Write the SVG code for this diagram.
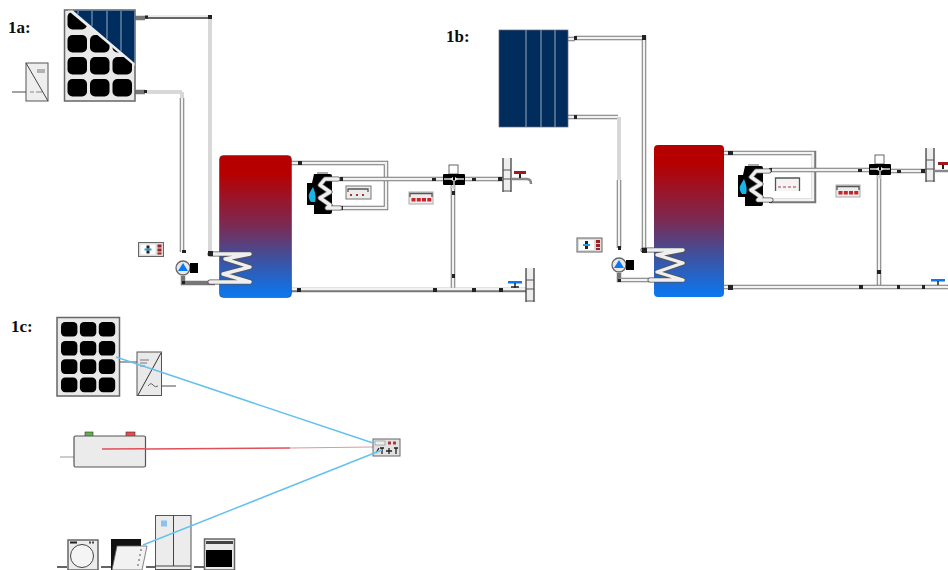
<svg xmlns="http://www.w3.org/2000/svg" width="948" height="570" viewBox="0 0 948 570">
<style>
.lbl{font-family:"Liberation Serif",serif;font-weight:bold;font-size:17px;fill:#0d0d0d}
.po{fill:none;stroke:#777;stroke-width:4.5}
.pi{fill:none;stroke:#f2f2f2;stroke-width:2.5}
.lt{fill:none;stroke:#d8d8d8;stroke-width:4}
.coil{fill:none;stroke:#555;stroke-width:5;stroke-linejoin:round;stroke-linecap:round}
.coili{fill:none;stroke:#efefef;stroke-width:3.4;stroke-linejoin:round;stroke-linecap:round}
.j{fill:#222}
.cell{fill:#000}
.frame{fill:#e9e9e9;stroke:#666;stroke-width:1.5}
.thin{stroke:#555;stroke-width:1.3;fill:none}
.blue{fill:none;stroke:#68c0ee;stroke-width:1.5}
.wire{fill:none;stroke:#888;stroke-width:1.5}
.stripe{stroke:#8095ad;stroke-width:1.2}
</style>
<defs>
<linearGradient id="tank" x1="0" y1="0" x2="0" y2="1">
<stop offset="0.12" stop-color="#b60000"/>
<stop offset="0.5" stop-color="#7a2b55"/>
<stop offset="0.72" stop-color="#40509c"/>
<stop offset="1" stop-color="#0a78f2"/>
</linearGradient>
<g id="cells3x4">
<rect class="cell" x="0" y="0" width="19.500" height="17.500" rx="5"/><rect class="cell" x="22.500" y="0" width="19.500" height="17.500" rx="5"/><rect class="cell" x="45" y="0" width="19.500" height="17.500" rx="5"/>
<rect class="cell" x="0" y="23" width="19.500" height="17.500" rx="5"/><rect class="cell" x="22.500" y="23" width="19.500" height="17.500" rx="5"/><rect class="cell" x="45" y="23" width="19.500" height="17.500" rx="5"/>
<rect class="cell" x="0" y="45" width="19.500" height="17.500" rx="5"/><rect class="cell" x="22.500" y="45" width="19.500" height="17.500" rx="5"/><rect class="cell" x="45" y="45" width="19.500" height="17.500" rx="5"/>
<rect class="cell" x="0" y="67" width="19.500" height="17.500" rx="5"/><rect class="cell" x="22.500" y="67" width="19.500" height="17.500" rx="5"/><rect class="cell" x="45" y="67" width="19.500" height="17.500" rx="5"/>
</g>
<g id="pump">
<circle cx="0" cy="0" r="7" fill="#e8e8e8" stroke="#666" stroke-width="1.300"/>
<path d="M-5 3 L0 -5 L5 3 Z" fill="#0a78f2"/>
<rect x="7" y="-5" width="8" height="10" fill="#000"/>
</g>
<g id="boiler">
<path d="M7 2 H23 Q25 2 25 4 V40 Q25 42 23 42 H7 V33 H0 V11 H5 Z" fill="#000"/>
<rect x="10" y="0" width="11" height="2" fill="#aaa"/>
<path d="M4 30 Q0 25 3 20 L6 15 Q10 24 8 30 Z" fill="#19b4e6"/>
<path class="coil" d="M31 7 H18 L13 13 L23 20 L13 26 L23 33 L20 36 H33"/>
<path class="coili" d="M31 7 H18 L13 13 L23 20 L13 26 L23 33 L20 36 H33"/>
</g>
<g id="ctrlRed">
<rect x="0" y="0" width="24" height="12" fill="#ececec" stroke="#aaa" stroke-width="1"/>
<path class="thin" d="M1 5 V1.500 H23 V5"/>
<rect x="2.500" y="6" width="4" height="3.500" fill="#c8242c"/><rect x="7.800" y="6" width="4" height="3.500" fill="#c8242c"/><rect x="13" y="6" width="4" height="3.500" fill="#c8242c"/><rect x="18.300" y="6" width="4" height="3.500" fill="#c8242c"/>
</g>
<g id="ctrlSmall">
<rect x="0" y="0" width="25" height="14" fill="#dcdcdc" stroke="#666" stroke-width="1"/>
<rect x="2" y="2" width="15" height="10" fill="#fff"/>
<path d="M6 7 H13" stroke="#19a0e6" stroke-width="2"/>
<rect x="8" y="3" width="3" height="3" fill="#222"/><rect x="8" y="8" width="3" height="3" fill="#222"/>
<rect x="19" y="2" width="4" height="3" fill="#a02028"/><rect x="19" y="6" width="4" height="3" fill="#a02028"/><rect x="19" y="10" width="4" height="2" fill="#a02028"/>
</g>
<g id="wall">
<rect x="0" y="0" width="8" height="34" fill="#eee"/>
<path d="M0 0 V34 M8 0 V34" stroke="#333" stroke-width="1.200"/>
<path d="M0 12 H8 M0 21 H8 M0 33 H8" stroke="#555" stroke-width="1.200"/>
</g>
<g id="mixer">
<rect x="-5" y="-14" width="9" height="9" fill="#fff" stroke="#666" stroke-width="1"/>
<rect x="-11" y="-5" width="22" height="11" rx="1" fill="#000"/>
<path d="M-10 0 H-3 M10 0 H3" stroke="#ddd" stroke-width="1.500"/>
<path d="M-4 0 L-1 -2 V2 Z M4 0 L1 -2 V2 Z" fill="#eee"/>
<path d="M0 1 V10 M-4 9 L0 7" stroke="#ccc" stroke-width="1.500"/>
</g>
</defs>

<g id="connectors">
<path class="lt" d="M210 19 V252"/>
<path class="po" d="M135 18 H145"/>
<path d="M145 16 H210" fill="none" stroke="#e4e4e4" stroke-width="1.500"/>
<path d="M145 18 H210" fill="none" stroke="#333" stroke-width="1.400"/>
<path class="lt" d="M146 92 H182"/>
<path class="po" d="M135 92 H145"/>
<path class="lt" d="M182 92 V100"/>
<path class="po" d="M182 98 V252" stroke-width="3.500"/><path class="pi" d="M182 98 V252" stroke-width="2"/>
<path class="po" d="M183 276 V283 H215"/>
<path class="po" d="M290 163 H386 V208 H340"/><path class="pi" d="M290 163 H386 V208 H340"/>
<path class="po" d="M340 179 H443"/><path class="pi" d="M340 179 H443"/>
<path class="po" d="M465 179 H503"/><path class="pi" d="M465 179 H503"/>
<path class="po" d="M453 184 V288"/><path class="pi" d="M453 184 V290"/>
<path class="po" d="M290 290 H526"/><path class="pi" d="M290 289 H526"/>
<rect class="j" x="145" y="15.500" width="3" height="3"/><rect class="j" x="208" y="15" width="4" height="4"/>
<rect class="j" x="144" y="90" width="3" height="3"/><rect class="j" x="182" y="250" width="4" height="3"/>
<rect class="j" x="182" y="281" width="3" height="3"/><rect class="j" x="209" y="281" width="3" height="3"/>
<rect class="j" x="298" y="161" width="4" height="4"/><rect class="j" x="340" y="177" width="3" height="4"/><rect class="j" x="340" y="206" width="3" height="4"/>
<rect class="j" x="297" y="288" width="4" height="4"/><rect class="j" x="432" y="178" width="4" height="3"/><rect class="j" x="472" y="178" width="4" height="3"/><rect class="j" x="498" y="177" width="4" height="4"/>
<rect class="j" x="452" y="191" width="3" height="4"/><rect class="j" x="452" y="274" width="3" height="4"/><rect class="j" x="433" y="288" width="4" height="4"/><rect class="j" x="472" y="288" width="4" height="4"/><rect class="j" x="499" y="288" width="4" height="4"/>

<path class="po" d="M568 39 H575"/><path class="pi" d="M568 39 H575"/>
<path class="po" d="M575 38 H644 V248"/><path class="pi" d="M575 38 H644 V248"/>
<path class="po" d="M568 117 H576"/><path class="pi" d="M568 117 H576"/>
<path class="po" d="M576 117 H618"/><path class="pi" d="M576 117 H618"/>
<path class="lt" d="M619 117 V180"/>
<path class="po" d="M619 180 V248" stroke-width="3.500"/><path class="pi" d="M619 180 V248" stroke-width="2"/>
<path class="po" d="M619 273 V280 H650"/><path class="pi" d="M619 280 H650"/>
<path class="po" d="M724 153 H814 V201 H770"/><path class="pi" d="M724 153 H813 V200 H770"/>
<path class="po" d="M770 170 H869"/><path class="pi" d="M770 170 H869"/>
<path class="po" d="M890 171 H926"/><path class="pi" d="M890 171 H926"/>
<path class="po" d="M879 175 V286"/><path class="pi" d="M879 175 V287"/>
<path class="po" d="M724 287 H948"/><path class="pi" d="M724 287 H948"/>
<rect class="j" x="574" y="36" width="3" height="4"/><rect class="j" x="642" y="35" width="4" height="5"/>
<rect class="j" x="574" y="115" width="3" height="4"/><rect class="j" x="618" y="246" width="3" height="4"/>
<rect class="j" x="618" y="279" width="3" height="3"/>
<rect class="j" x="728" y="151" width="5" height="4"/><rect class="j" x="769" y="168" width="3" height="4"/><rect class="j" x="769" y="199" width="3" height="4"/>
<rect class="j" x="858" y="169" width="4" height="3"/><rect class="j" x="897" y="170" width="4" height="3"/><rect class="j" x="921" y="169" width="4" height="4"/>
<rect class="j" x="877" y="270" width="4" height="4"/><rect class="j" x="728" y="285" width="5" height="5"/><rect class="j" x="859" y="285" width="4" height="4"/><rect class="j" x="897" y="285" width="3" height="4"/><rect class="j" x="922" y="285" width="3" height="4"/>

<path class="wire" d="M120 362 H137 M162 386 H176"/>
<path class="wire" d="M60 457 H74" style="stroke:#bbb"/>
<path class="wire" d="M57 567 H67 M101 567 H111 M146 567 H155 M194 567 H204" style="stroke:#333"/>
<path d="M290 448 L373 447" fill="none" stroke="#d99" stroke-width="1"/>
<path d="M145 449 L290 448" fill="none" stroke="#e05058" stroke-width="1.500"/>
</g>

<g id="panel-1a">
<rect class="frame" x="64.500" y="10" width="70.500" height="91"/>
<use href="#cells3x4" x="67.500" y="12"/>
<path d="M68 10.500 H134.500 V66 Z" fill="#eee"/>
<path d="M73 10.500 H134.500 V63 Z" fill="#002d5f"/>
<path class="stripe" d="M78 11 V14 M92 11 V26 M107 11 V39 M121 11 V51"/>
</g>
<g id="inverter-1a">
<path d="M12 92 H26" stroke="#666" stroke-width="1.200"/>
<rect x="26" y="63" width="22" height="38" fill="#eee" stroke="#555" stroke-width="1"/>
<path d="M26 63 L48 101" stroke="#444" stroke-width="1"/>
<path d="M37 70 H45 M37 72 H45" stroke="#777" stroke-width="1"/><path d="M30 92 H34 M36 92 H42" stroke="#888" stroke-width="1"/>
</g>
<g id="tank-1a">
<rect x="219.500" y="155.500" width="72" height="142" rx="4" fill="url(#tank)" stroke="#444" stroke-width="0.600"/>
<path class="coil" d="M210 254 H250 L225 259 L250 267 L223 274 L250 282 H210"/>
<path class="coili" d="M210 254 H250 L225 259 L250 267 L223 274 L250 282 H210"/>
<rect class="j" x="208" y="251" width="5" height="5"/>
</g>
<g id="boiler-1a"><use href="#boiler" x="307" y="172"/></g>
<g id="controller-1a-boiler">
<rect x="346" y="186" width="25" height="13" fill="#ececec" stroke="#777"/>
<path class="thin" d="M348 192 V189 H368 V192"/>
<path d="M350 195 H352 M356 195 H358 M362 195 H364" stroke="#a33" stroke-width="2"/>
</g>
<g id="controller-1a-pump"><use href="#ctrlSmall" x="138.500" y="242.500"/></g>
<g id="pump-1a"><use href="#pump" x="183" y="268"/></g>
<g id="mixer-1a"><use href="#mixer" x="454" y="179"/></g>
<g id="controller-1a-red"><use href="#ctrlRed" x="409" y="192"/></g>
<g id="tap-1a-hot">
<use href="#wall" x="503" y="158"/>
<path d="M511 179 H527 Q531 179 531 184" fill="none" stroke="#888" stroke-width="2.500"/>
<rect x="514" y="171" width="12" height="3" fill="#a01820"/><rect x="519" y="174" width="2" height="4" fill="#222"/>
</g>
<g id="valve-1a-cold">
<use href="#wall" x="526" y="268"/>
<rect x="508" y="281" width="14" height="2.500" fill="#0a78f2"/><path d="M515 283 V288 M511 287 L519 287" stroke="#222" stroke-width="1.500"/>
</g>

<g id="panel-1b">
<rect x="499" y="30" width="69" height="97" fill="#002d5c" stroke="#667" stroke-width="0.700"/>
<path class="stripe" d="M526 30 V127 M541 30 V127 M555 30 V127"/>
</g>
<g id="tank-1b">
<rect x="654" y="145" width="70" height="152" rx="4" fill="url(#tank)"/>
<path class="coil" d="M643 250 H683 L657 255 L683 263 L657 272 L683 280 H650"/>
<path class="coili" d="M643 250 H683 L657 255 L683 263 L657 272 L683 280 H650"/>
<rect class="j" x="642" y="248" width="5" height="5"/>
</g>
<g id="boiler-1b"><use href="#boiler" x="738" y="164"/></g>
<g id="controller-1b-boiler">
<rect x="775.500" y="178" width="24" height="13" fill="#f4f4f4"/>
<path class="thin" d="M775.500 191 V178 H799.500 V191"/>
<path d="M778 187 H797" stroke="#b33" stroke-width="1" stroke-dasharray="3 2"/>
</g>
<g id="controller-1b-pump"><use href="#ctrlSmall" x="577" y="238"/></g>
<g id="pump-1b"><use href="#pump" x="619" y="265"/></g>
<g id="mixer-1b"><use href="#mixer" x="880" y="169"/></g>
<g id="controller-1b-red"><use href="#ctrlRed" x="836" y="185"/></g>
<g id="tap-1b-hot">
<use href="#wall" x="926" y="148"/>
<path d="M934 171 H948" fill="none" stroke="#888" stroke-width="2.500"/>
<rect x="938" y="162" width="10" height="3" fill="#a01820"/><rect x="942" y="165" width="2" height="4" fill="#222"/>
</g>
<g id="valve-1b-cold">
<rect x="931" y="279" width="14" height="2.500" fill="#0a78f2"/><path d="M938 281 V285" stroke="#222" stroke-width="1.500"/>
</g>

<g id="panel-1c">
<rect class="frame" x="57" y="317.500" width="62.500" height="78.500"/>
<g transform="translate(61 322) scale(0.84 0.83)"><use href="#cells3x4"/></g>
</g>
<g id="inverter-1c">
<rect x="137" y="352" width="24.500" height="43.500" fill="#e9e9e9" stroke="#555"/>
<path d="M138 395 L161 353" stroke="#333" stroke-width="1"/>
<path d="M140 360 H149 M140 363 H147 M140 366 H145" stroke="#777" stroke-width="1"/>
<path d="M148 386 Q151 382 153 385 T158 386" fill="none" stroke="#666" stroke-width="1"/>
</g>
<g id="battery-1c">
<rect x="85" y="432" width="8" height="5" fill="#62b04c" stroke="#333" stroke-width="0.600"/>
<rect x="126" y="432" width="9" height="5" fill="#ea4a4a" stroke="#333" stroke-width="0.600"/>
<rect x="74" y="436" width="71.500" height="31" rx="1.500" fill="#ebebeb" stroke="#555" stroke-width="1.200"/>
<path d="M102 449 L146 448.800" fill="none" stroke="#e05058" stroke-width="1.500"/>
</g>
<g id="washer-1c">
<rect x="68" y="540" width="30" height="30" fill="#ececec" stroke="#666" stroke-width="1.500"/>
<rect x="70" y="541.500" width="7" height="2" fill="#222"/><rect x="89" y="541.500" width="2" height="2" fill="#444"/><rect x="92" y="541.500" width="2" height="2" fill="#444"/>
<circle cx="82" cy="556" r="11.500" fill="#f4f4f4" stroke="#444" stroke-width="1"/>
</g>
<g id="dishwasher-1c">
<rect x="111" y="539" width="30" height="31" fill="#111"/>
<path d="M117 546 H147 L142 570 H112 Z" fill="#f2f2f2" stroke="#666" stroke-width="0.800"/>
<path d="M141 549 V551 M140 554 V556 M139 559 V561 M138 564 V566" stroke="#555" stroke-width="1"/>
</g>
<g id="fridge-1c">
<rect x="155.500" y="515.500" width="35.500" height="54" fill="#ececec" stroke="#555" stroke-width="1"/>
<path d="M173.500 515 V566 M155 566 H191" stroke="#444" stroke-width="1"/>
<rect x="161" y="520.500" width="6" height="6" fill="#8cc0f0"/>
</g>
<g id="oven-1c">
<rect x="204.500" y="539" width="30" height="31" fill="#ececec" stroke="#666" stroke-width="1.500"/>
<rect x="206" y="541" width="27" height="3" fill="#444"/>
<rect x="206" y="550" width="26" height="17" fill="#000"/>
</g>
<g id="controller-1c">
<rect x="373" y="439" width="27" height="17" fill="#e2e2e2" stroke="#666" stroke-width="1"/>
<rect x="375" y="441" width="10" height="4" fill="#eee" stroke="#888" stroke-width="0.600"/>
<rect x="388" y="441.500" width="3" height="3" fill="#b0353a"/><rect x="393" y="441.500" width="3" height="3" fill="#b0353a"/>
<path d="M376 453 L379 448 M382 448 V454 M380 448 H384 M389 448 V454 M386 451 H392 M396 448 V454 M394 448 H398" stroke="#222" stroke-width="1.300"/>
</g>

<g id="links">
<path class="blue" d="M116 357 L373 443"/>
<path class="blue" d="M143 545 L382 450"/>
</g>

<text class="lbl" x="8" y="33">1a:</text>
<text class="lbl" x="446" y="42">1b:</text>
<text class="lbl" x="11" y="332">1c:</text>
</svg>
